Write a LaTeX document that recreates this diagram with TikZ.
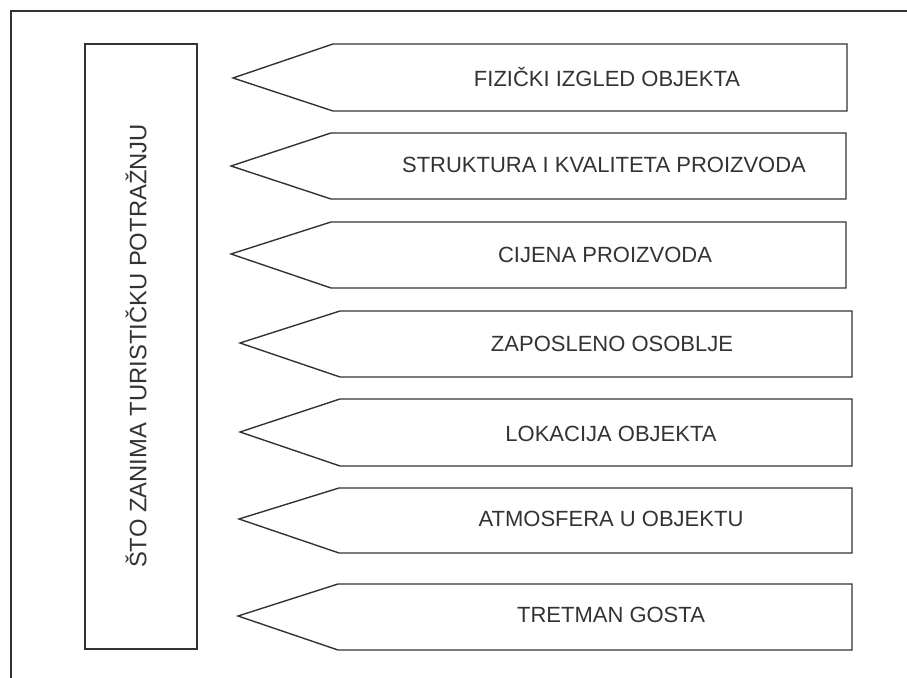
\documentclass[tikz,border=0pt]{standalone}
\usepackage{fontspec}
\setmainfont{Liberation Sans}
\usepackage{tikz}

\begin{document}
\begin{tikzpicture}[x=0.5pt,y=-0.5pt,line width=0.7pt,draw=black!80,
  lbl/.style={text=black!80,font=\fontsize{11}{13}\selectfont,inner sep=0pt}]
\useasboundingbox (0,0) rectangle (907,678);
% frame
\draw (11,678)--(11,11)--(907,11);
% left box
\draw (85,44) rectangle (197,649);
\node[lbl,font=\fontsize{11.9}{14}\selectfont,rotate=90] (sto) at (136,346) {ŠTO ZANIMA TURISTIČKU POTRAŽNJU};
% begin arrows
\draw (847,44)--(333,44)--(233,78)--(333,111)--(847,111)--cycle;
\node[lbl] (izgled) at (607,77) {FIZIČKI IZGLED OBJEKTA};
\draw (846,133)--(331,133)--(231,166)--(331,199)--(846,199)--cycle;
\node[lbl] (struktura) at (604,165) {STRUKTURA I KVALITETA PROIZVODA};
\draw (846,222)--(331,222)--(231,254)--(331,288)--(846,288)--cycle;
\node[lbl] (cijena) at (605,255) {CIJENA PROIZVODA};
\draw (852,311)--(340,311)--(240,343)--(340,377)--(852,377)--cycle;
\node[lbl] (osoblje) at (612,344) {ZAPOSLENO OSOBLJE};
\draw (852,399)--(340,399)--(240,432)--(340,466)--(852,466)--cycle;
\node[lbl] (lokacija) at (611,434) {LOKACIJA OBJEKTA};
\draw (852,488)--(339,488)--(239,519)--(339,553)--(852,553)--cycle;
\node[lbl] (atmosfera) at (611,519) {ATMOSFERA U OBJEKTU};
\draw (852,584)--(338,584)--(238,616)--(338,650)--(852,650)--cycle;
\node[lbl] (tretman) at (611,615) {TRETMAN GOSTA};
\end{tikzpicture}
\end{document}
